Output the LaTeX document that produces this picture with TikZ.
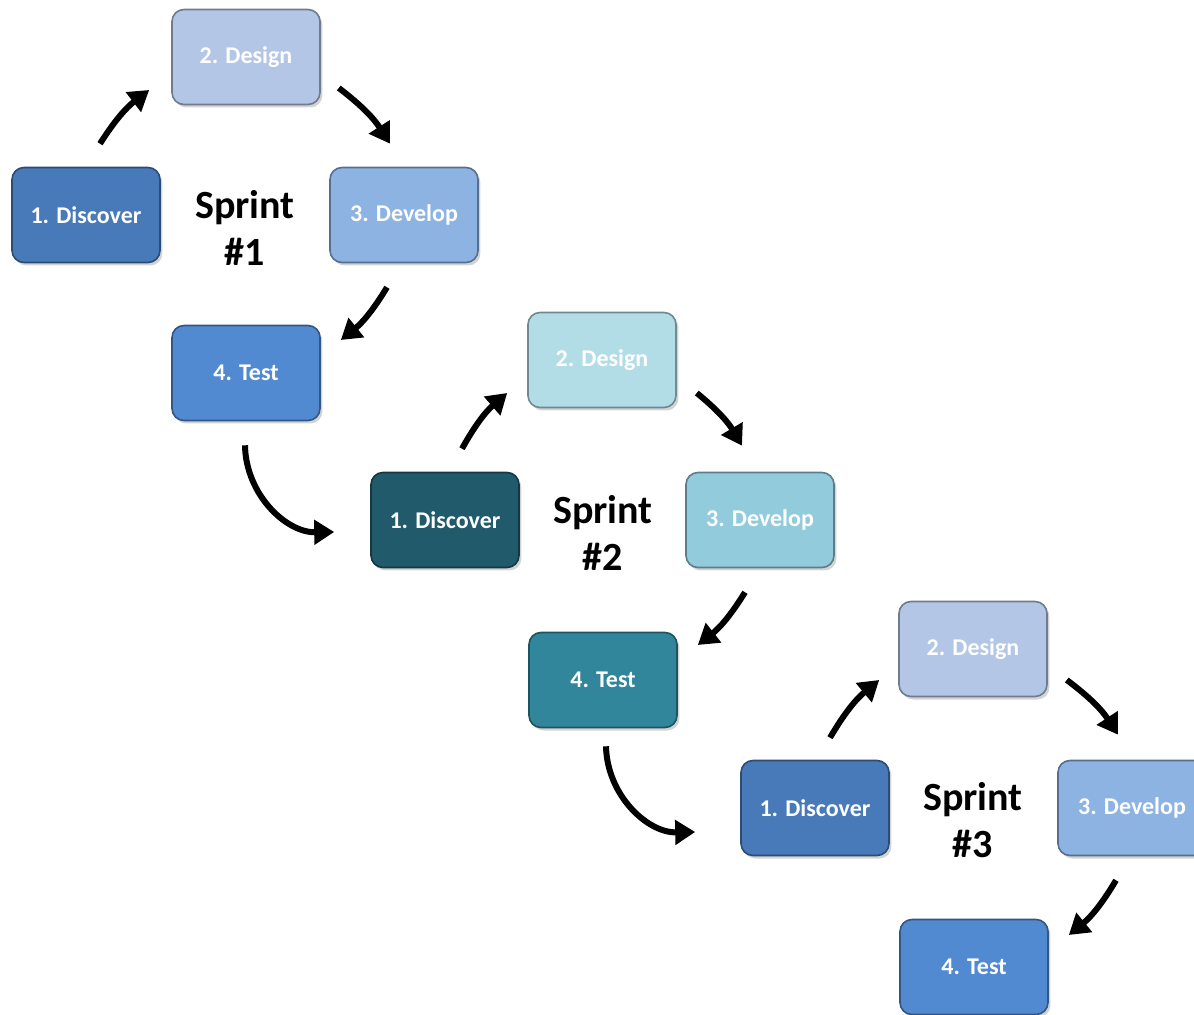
\documentclass[tikz,border=0pt]{standalone}
\usepackage{fontspec}
\setmainfont{Carlito}
\usetikzlibrary{shadows,arrows.meta,calc}
\definecolor{cdiscA}{HTML}{487ABA}
\definecolor{cdesA}{HTML}{B3C6E5}
\definecolor{cdevA}{HTML}{8DB3E2}
\definecolor{ctestA}{HTML}{528AD2}
\definecolor{cdiscB}{HTML}{215A6A}
\definecolor{cdesB}{HTML}{B3DDE6}
\definecolor{cdevB}{HTML}{92CCDC}
\definecolor{ctestB}{HTML}{31869B}
\begin{document}
\begin{tikzpicture}[x=0.5pt,y=0.5pt,
  box/.style={rounded corners=6pt, minimum width=74pt, minimum height=47.5pt,
    draw=#1!62!black, fill=#1, line width=0.8pt, text=white, inner sep=0pt,
    font=\bfseries\fontsize{12}{14}\selectfont,
    drop shadow={shadow xshift=1.2pt,shadow yshift=-1.5pt,opacity=0.35}},
  arr/.style={line width=3pt, -{Triangle[length=10pt,width=12pt]}},
  lbl/.style={align=center, font=\bfseries\fontsize{20}{23.5}\selectfont}]
\useasboundingbox (0,0) rectangle (1194,-1015);
\clip (0,0) rectangle (1194,-1015);
% Sprint 1
\node[box=cdiscA] (d1) at (86,-215) {1. Discover};
\node[box=cdesA]  (g1) at (246,-57) {2. Design};
\node[box=cdevA]  (v1) at (404,-215) {3. Develop};
\node[box=ctestA] (t1) at (246,-373) {4. Test};
\node[lbl] (s1) at (245,-228) {Sprint\\\#1};
% Sprint 2
\node[box=cdiscB] (d2) at (445,-520) {1. Discover};
\node[box=cdesB]  (g2) at (602,-360) {2. Design};
\node[box=cdevB]  (v2) at (760,-520) {3. Develop};
\node[box=ctestB] (t2) at (603,-680) {4. Test};
\node[lbl] (s2) at (603,-533) {Sprint\\\#2};
% Sprint 3
\node[box=cdiscA] (d3) at (815,-808) {1. Discover};
\node[box=cdesA]  (g3) at (973,-649) {2. Design};
\node[box=cdevA]  (v3) at (1132,-808) {3. Develop};
\node[box=ctestA] (t3) at (974,-967) {4. Test};
\node[lbl] (s3) at (973,-820) {Sprint\\\#3};
% arrows sprint 1
\draw[arr] ($(d1.north)+(14,23)$) to[bend left=10] ($(g1.west)+(-22,-33)$);
\draw[arr] ($(g1.east)+(18,-31)$) to[bend left=10] ($(v1.north)+(-14,23)$);
\draw[arr] ($(v1.south)+(-17,-24)$) to[bend left=10] ($(t1.east)+(20,33)$);
\draw[arr] ($(t1.south)+(-1,-24)$) to[bend right=45] ($(d2.west)+(-36,-12)$);
% arrows sprint 2
\draw[arr] ($(d2.north)+(17,23)$) to[bend left=10] ($(g2.west)+(-20,-33)$);
\draw[arr] ($(g2.east)+(20,-33)$) to[bend left=10] ($(v2.north)+(-18,26)$);
\draw[arr] ($(v2.south)+(-15,-24)$) to[bend left=10] ($(t2.east)+(20,35)$);
\draw[arr] ($(t2.south)+(3,-18)$) to[bend right=45] ($(d3.west)+(-45,-24)$);
% arrows sprint 3
\draw[arr] ($(d3.north)+(15,22)$) to[bend left=10] ($(g3.west)+(-19,-31)$);
\draw[arr] ($(g3.east)+(19,-31)$) to[bend left=10] ($(v3.north)+(-14,25)$);
\draw[arr] ($(v3.south)+(-16,-24)$) to[bend left=10] ($(t3.east)+(20,32)$);
\end{tikzpicture}
\end{document}
